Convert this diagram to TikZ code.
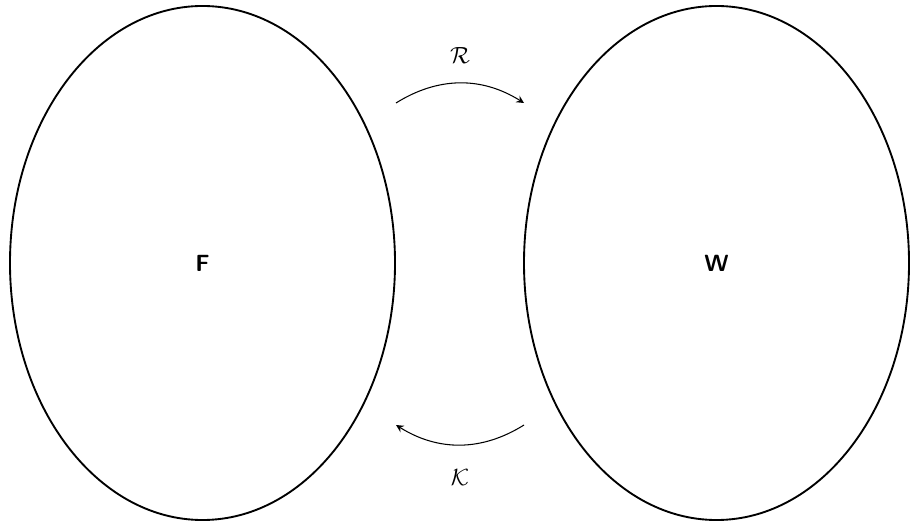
\documentclass[tikz,border=0pt]{standalone}
\usepackage{amsmath, amssymb}
\usetikzlibrary{shapes.geometric}

\begin{document}
\begin{tikzpicture}[x=0.015cm, y=-0.015cm,
  set/.style={draw, ellipse, line width=0.8pt, minimum width=5.775cm, minimum height=7.71cm, inner sep=0, font=\sffamily\bfseries},
  map/.style={-stealth, line width=0.45pt}]
\useasboundingbox (0,0) rectangle (910,522);
\path (202.5,263) node[set] (F) {F};
\path (716.5,263) node[set] (W) {W};
\path (396,103) coordinate (r0);
\path (524,103) coordinate (r1);
\path (524,425) coordinate (k0);
\path (396,425) coordinate (k1);
\draw[map] (r0) to[bend left=32] node[above, yshift=5pt] (R) {$\mathcal{R}$} (r1);
\draw[map] (k0) to[bend left=32] node[below, yshift=-7pt] (K) {$\mathcal{K}$} (k1);
\end{tikzpicture}
\end{document}
